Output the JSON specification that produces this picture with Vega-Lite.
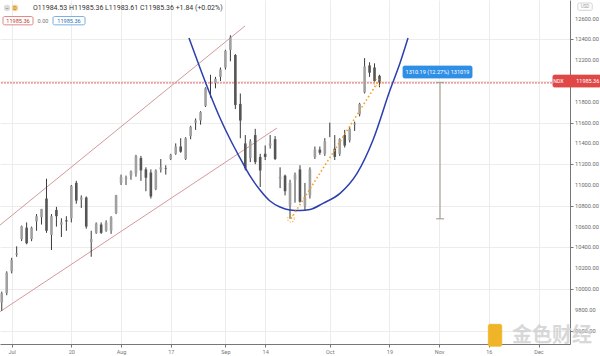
{
  "$schema": "https://vega.github.io/schema/vega-lite/v6.json",
  "width": 570,
  "height": 344,
  "autosize": {"type": "none"},
  "padding": {"left": 0, "top": 0, "right": 30, "bottom": 12},
  "background": "white",
  "config": {"view": {"stroke": null}, "font": "Roboto", "axis": {"labelOverlap": false, "labelBound": false, "labelFlush": false}},
  "datasets": {
    "ohlc": [
      {"t": -2, "d": "2020-06-29", "o": 9870, "h": 9975, "l": 9790, "c": 9960},
      {"t": -1, "d": "2020-06-30", "o": 9960, "h": 10170, "l": 9940, "c": 10157},
      {"t": 0, "d": "2020-07-01", "o": 10170, "h": 10300, "l": 10150, "c": 10279},
      {"t": 1, "d": "2020-07-02", "o": 10330, "h": 10410, "l": 10310, "c": 10342},
      {"t": 2, "d": "2020-07-06", "o": 10480, "h": 10610, "l": 10460, "c": 10604},
      {"t": 3, "d": "2020-07-07", "o": 10590, "h": 10640, "l": 10430, "c": 10440},
      {"t": 4, "d": "2020-07-08", "o": 10480, "h": 10600, "l": 10460, "c": 10590},
      {"t": 5, "d": "2020-07-09", "o": 10650, "h": 10720, "l": 10560, "c": 10700},
      {"t": 6, "d": "2020-07-10", "o": 10690, "h": 10770, "l": 10620, "c": 10770},
      {"t": 7, "d": "2020-07-13", "o": 10870, "h": 11060, "l": 10540, "c": 10560},
      {"t": 8, "d": "2020-07-14", "o": 10520, "h": 10720, "l": 10375, "c": 10700},
      {"t": 9, "d": "2020-07-15", "o": 10760, "h": 10790, "l": 10600, "c": 10700},
      {"t": 10, "d": "2020-07-16", "o": 10620, "h": 10680, "l": 10500, "c": 10640},
      {"t": 11, "d": "2020-07-17", "o": 10660, "h": 10700, "l": 10560, "c": 10650},
      {"t": 12, "d": "2020-07-20", "o": 10680, "h": 11000, "l": 10640, "c": 10990},
      {"t": 13, "d": "2020-07-21", "o": 11020, "h": 11040, "l": 10820, "c": 10850},
      {"t": 14, "d": "2020-07-22", "o": 10860, "h": 10900, "l": 10780, "c": 10880},
      {"t": 15, "d": "2020-07-23", "o": 10880, "h": 10890, "l": 10580, "c": 10600},
      {"t": 16, "d": "2020-07-24", "o": 10450, "h": 10560, "l": 10310, "c": 10480},
      {"t": 17, "d": "2020-07-27", "o": 10540, "h": 10640, "l": 10530, "c": 10630},
      {"t": 18, "d": "2020-07-28", "o": 10620, "h": 10640, "l": 10530, "c": 10540},
      {"t": 19, "d": "2020-07-29", "o": 10560, "h": 10660, "l": 10550, "c": 10640},
      {"t": 20, "d": "2020-07-30", "o": 10560, "h": 10700, "l": 10530, "c": 10690},
      {"t": 21, "d": "2020-07-31", "o": 10730, "h": 10905, "l": 10720, "c": 10900},
      {"t": 22, "d": "2020-08-03", "o": 11020, "h": 11100, "l": 11000, "c": 11080},
      {"t": 23, "d": "2020-08-04", "o": 11060, "h": 11090, "l": 11000, "c": 11070},
      {"t": 24, "d": "2020-08-05", "o": 11090, "h": 11140, "l": 11050, "c": 11130},
      {"t": 25, "d": "2020-08-06", "o": 11110, "h": 11290, "l": 11080, "c": 11280},
      {"t": 26, "d": "2020-08-07", "o": 11260, "h": 11280, "l": 11040, "c": 11140},
      {"t": 27, "d": "2020-08-10", "o": 11150, "h": 11170, "l": 10940, "c": 11070},
      {"t": 28, "d": "2020-08-11", "o": 11120, "h": 11150, "l": 10870, "c": 10890},
      {"t": 29, "d": "2020-08-12", "o": 10960, "h": 11150, "l": 10950, "c": 11140},
      {"t": 30, "d": "2020-08-13", "o": 11150, "h": 11250, "l": 11120, "c": 11170},
      {"t": 31, "d": "2020-08-14", "o": 11160, "h": 11190, "l": 11100, "c": 11155},
      {"t": 32, "d": "2020-08-17", "o": 11250, "h": 11300, "l": 11240, "c": 11290},
      {"t": 33, "d": "2020-08-18", "o": 11300, "h": 11400, "l": 11290, "c": 11370},
      {"t": 34, "d": "2020-08-19", "o": 11370, "h": 11450, "l": 11310, "c": 11320},
      {"t": 35, "d": "2020-08-20", "o": 11250, "h": 11460, "l": 11240, "c": 11450},
      {"t": 36, "d": "2020-08-21", "o": 11470, "h": 11570, "l": 11440, "c": 11560},
      {"t": 37, "d": "2020-08-24", "o": 11600, "h": 11640, "l": 11530, "c": 11620},
      {"t": 38, "d": "2020-08-25", "o": 11620, "h": 11710, "l": 11580, "c": 11700},
      {"t": 39, "d": "2020-08-26", "o": 11760, "h": 11940, "l": 11750, "c": 11930},
      {"t": 40, "d": "2020-08-27", "o": 11960, "h": 12060, "l": 11840, "c": 11960},
      {"t": 41, "d": "2020-08-28", "o": 11980, "h": 12040, "l": 11930, "c": 12020},
      {"t": 42, "d": "2020-08-31", "o": 12040, "h": 12130, "l": 12000, "c": 12110},
      {"t": 43, "d": "2020-09-01", "o": 12130, "h": 12300, "l": 12110, "c": 12290},
      {"t": 44, "d": "2020-09-02", "o": 12300, "h": 12440, "l": 12190, "c": 12420},
      {"t": 45, "d": "2020-09-03", "o": 12250, "h": 12260, "l": 11730, "c": 11770},
      {"t": 46, "d": "2020-09-04", "o": 11780, "h": 11880, "l": 11450, "c": 11620},
      {"t": 47, "d": "2020-09-08", "o": 11400, "h": 11480, "l": 11140, "c": 11160},
      {"t": 48, "d": "2020-09-09", "o": 11260, "h": 11440, "l": 11220, "c": 11420},
      {"t": 49, "d": "2020-09-10", "o": 11480, "h": 11540, "l": 11200, "c": 11220},
      {"t": 50, "d": "2020-09-11", "o": 11270, "h": 11300, "l": 10980, "c": 11140},
      {"t": 51, "d": "2020-09-14", "o": 11300, "h": 11380, "l": 11240, "c": 11270},
      {"t": 52, "d": "2020-09-15", "o": 11380, "h": 11480, "l": 11350, "c": 11400},
      {"t": 53, "d": "2020-09-16", "o": 11440, "h": 11470, "l": 11240, "c": 11250},
      {"t": 54, "d": "2020-09-17", "o": 11060, "h": 11170, "l": 10970, "c": 11080},
      {"t": 55, "d": "2020-09-18", "o": 11090, "h": 11100, "l": 10900, "c": 10940},
      {"t": 56, "d": "2020-09-21", "o": 10800, "h": 11050, "l": 10675.17, "c": 11020},
      {"t": 57, "d": "2020-09-22", "o": 11050, "h": 11120, "l": 10830, "c": 11100},
      {"t": 58, "d": "2020-09-23", "o": 11150, "h": 11190, "l": 10830, "c": 10840},
      {"t": 59, "d": "2020-09-24", "o": 10800, "h": 11020, "l": 10760, "c": 10880},
      {"t": 60, "d": "2020-09-25", "o": 10900, "h": 11170, "l": 10870, "c": 11150},
      {"t": 61, "d": "2020-09-28", "o": 11270, "h": 11370, "l": 11250, "c": 11340},
      {"t": 62, "d": "2020-09-29", "o": 11340, "h": 11370, "l": 11290, "c": 11310},
      {"t": 63, "d": "2020-09-30", "o": 11300, "h": 11450, "l": 11280, "c": 11420},
      {"t": 64, "d": "2020-10-01", "o": 11520, "h": 11600, "l": 11460, "c": 11520},
      {"t": 65, "d": "2020-10-02", "o": 11350, "h": 11480, "l": 11240, "c": 11270},
      {"t": 66, "d": "2020-10-05", "o": 11300, "h": 11450, "l": 11280, "c": 11440},
      {"t": 67, "d": "2020-10-06", "o": 11480, "h": 11530, "l": 11360, "c": 11380},
      {"t": 68, "d": "2020-10-07", "o": 11430, "h": 11560, "l": 11410, "c": 11540},
      {"t": 69, "d": "2020-10-08", "o": 11580, "h": 11610, "l": 11520, "c": 11590},
      {"t": 70, "d": "2020-10-09", "o": 11680, "h": 11790, "l": 11660, "c": 11780},
      {"t": 71, "d": "2020-10-12", "o": 11890, "h": 12220, "l": 11880, "c": 12140},
      {"t": 72, "d": "2020-10-13", "o": 12150, "h": 12180, "l": 12040, "c": 12080},
      {"t": 73, "d": "2020-10-14", "o": 12130, "h": 12170, "l": 11990, "c": 12000},
      {"t": 74, "d": "2020-10-15", "o": 12050, "h": 12060, "l": 11940, "c": 11985.36}
    ],
    "ticksY": [
      {"v": 9600}, {"v": 9800}, {"v": 10000}, {"v": 10200}, {"v": 10400}, {"v": 10600}, {"v": 10800}, {"v": 11000},
      {"v": 11200}, {"v": 11400}, {"v": 11600}, {"v": 11800}, {"v": 12000}, {"v": 12200}, {"v": 12400}, {"v": 12600}
    ],
    "channel": [
      {"id": "upper", "t": -2.35, "v": 10615},
      {"id": "upper", "t": 46.94, "v": 12529},
      {"id": "lower", "t": -2.35, "v": 9782},
      {"id": "lower", "t": 53.38, "v": 11548}
    ],
    "curve": [
      {"t": 35.67, "v": 12413}, {"t": 37.89, "v": 12125}, {"t": 39.9, "v": 11875},
      {"t": 41.91, "v": 11644}, {"t": 43.92, "v": 11442}, {"t": 45.93, "v": 11260},
      {"t": 47.95, "v": 11087}, {"t": 49.96, "v": 10952}, {"t": 51.97, "v": 10846},
      {"t": 53.98, "v": 10788}, {"t": 55.99, "v": 10760}, {"t": 58.0, "v": 10755},
      {"t": 60.02, "v": 10764}, {"t": 62.64, "v": 10824}, {"t": 66.06, "v": 10920},
      {"t": 69.48, "v": 11112}, {"t": 72.7, "v": 11433}, {"t": 76.12, "v": 11913},
      {"t": 78.13, "v": 12173}, {"t": 79.74, "v": 12413}
    ],
    "trend": [
      {"t": 56.2, "v": 10675.17},
      {"t": 73.6, "v": 11985.36}
    ],
    "measure": [
      {"t": 86.18, "v": 10675.17, "v2": 11985.36}
    ],
    "caps": [
      {"t": 85.4, "t2": 87.0, "v": 10675.17},
      {"t": 85.4, "t2": 87.0, "v": 11985.36}
    ],
    "boxes": [
      {"k": "measure", "t": 78.73, "t2": 92.62, "v": 12029, "v2": 12144, "fill": "#2f8fe6", "stroke": "#2f8fe6"},
      {"k": "ndx", "t": 108.9, "t2": 118.5, "v": 11942, "v2": 12057, "fill": "#e04848", "stroke": "#e04848"},
      {"k": "hdr1", "t": -1.75, "t2": 4.29, "v": 12540, "v2": 12620, "fill": "#ffffff", "stroke": "#d86a6a"},
      {"k": "hdr2", "t": 8.31, "t2": 14.75, "v": 12540, "v2": 12620, "fill": "#ffffff", "stroke": "#5b9bd5"},
      {"k": "usd", "t": 113.9, "t2": 116.8, "v": 12680, "v2": 12750, "fill": "#ffffff", "stroke": "#c8c8c8"},
      {"k": "logo", "t": 95.9, "t2": 98.6, "v": 9450, "v2": 9660, "fill": "#f0b429", "stroke": "#f0b429"}
    ],
    "badges": [
      {"t": -0.95, "v": 12702, "fill": "#dcdcdc"},
      {"t": 0.65, "v": 12702, "fill": "#f7cf86"}
    ],
    "labels": [
      {"t": 4.29, "v": 12702, "txt": "O11984.53  H11985.36  L11983.61  C11985.36  +1.84 (+0.02%)", "col": "#333333", "sz": 7, "al": "left"},
      {"t": 1.27, "v": 12580, "txt": "11985.36", "col": "#c0392b", "sz": 5.6, "al": "center"},
      {"t": 6.3, "v": 12580, "txt": "0.00", "col": "#777777", "sz": 5.6, "al": "center"},
      {"t": 11.53, "v": 12580, "txt": "11985.36", "col": "#2a6fb8", "sz": 5.6, "al": "center"},
      {"t": 85.67, "v": 12086, "txt": "1310.19 (12.27%) 131019", "col": "#ffffff", "sz": 5.6, "al": "center"},
      {"t": 110.0, "v": 11999, "txt": "NDX", "col": "#ffffff", "sz": 5.3, "al": "center"},
      {"t": 115.9, "v": 11999, "txt": "11985.36", "col": "#ffffff", "sz": 5.5, "al": "center"},
      {"t": 115.35, "v": 12715, "txt": "USD", "col": "#999999", "sz": 4.5, "al": "center"},
      {"t": 0.65, "v": 12702, "txt": "D", "col": "#b07020", "sz": 5, "al": "center"},
      {"t": -0.95, "v": 12702, "txt": "–", "col": "#555555", "sz": 5.5, "al": "center"}
    ],
    "logo": [
      {"t": 108.7, "v": 9545, "txt": "金色财经"}
    ]
  },
  "layer": [
    {
      "data": {"name": "ohlc"},
      "mark": {"type": "point", "opacity": 0},
      "encoding": {
        "x": {"field": "t", "type": "quantitative",
          "scale": {"domain": [-2.354, 112.33], "nice": false, "zero": false},
          "axis": {"values": [0, 12, 22, 32, 43, 51, 64, 76, 86, 96, 106], "title": null,
            "labelExpr": "datum.value == 0 ? 'Jul' : datum.value == 12 ? '20' : datum.value == 22 ? 'Aug' : datum.value == 32 ? '17' : datum.value == 43 ? 'Sep' : datum.value == 51 ? '14' : datum.value == 64 ? 'Oct' : datum.value == 76 ? '19' : datum.value == 86 ? 'Nov' : datum.value == 96 ? '16' : 'Dec'",
            "labelFontSize": 5.5, "labelColor": "#777777", "tickColor": "#777777", "tickSize": 3, "domainColor": "#777777",
            "gridColor": "#ececec", "labelPadding": 2, "grid": true, "labelOverlap": false, "labelBound": false}},
        "y": {"field": "c", "type": "quantitative",
          "scale": {"domain": [9471, 12779], "nice": false, "zero": false},
          "axis": {"orient": "right", "values": [9600, 9800, 10000, 10200, 10400, 10600, 10800, 11000, 11200, 11400, 11600, 11800, 12000, 12200, 12400, 12600],
            "labels": false, "title": null, "tickColor": "#777777", "tickSize": 3,
            "domainColor": "#777777", "gridColor": "#ececec", "grid": true}}
      }
    },
    {
      "data": {"name": "ticksY"},
      "mark": {"type": "text", "align": "left", "baseline": "middle", "fontSize": 5.7, "color": "#6a6a6a", "dx": 5},
      "encoding": {
        "x": {"datum": 112.33, "type": "quantitative"},
        "y": {"field": "v", "type": "quantitative"},
        "text": {"field": "v", "type": "quantitative", "format": ".2f"}
      }
    },
    {
      "data": {"name": "ohlc"},
      "mark": {"type": "rule", "color": "#e3a3a3", "strokeDash": [1.5, 1.5], "strokeWidth": 1},
      "encoding": {
        "y": {"datum": 11985.36, "type": "quantitative"}
      }
    },
    {
      "data": {"name": "channel"},
      "mark": {"type": "line", "color": "#d39a9a", "strokeWidth": 1},
      "encoding": {
        "x": {"field": "t", "type": "quantitative"},
        "y": {"field": "v", "type": "quantitative"},
        "detail": {"field": "id"}
      }
    },
    {
      "data": {"name": "ohlc"},
      "mark": {"type": "rule", "color": "#3a3a3a", "strokeWidth": 1},
      "encoding": {
        "x": {"field": "t", "type": "quantitative"},
        "y": {"field": "l", "type": "quantitative"},
        "y2": {"field": "h"}
      }
    },
    {
      "data": {"name": "ohlc"},
      "mark": {"type": "rule", "strokeWidth": 2.6},
      "encoding": {
        "x": {"field": "t", "type": "quantitative"},
        "y": {"field": "o", "type": "quantitative"},
        "y2": {"field": "c"},
        "color": {"condition": {"test": "datum.c >= datum.o", "value": "#a0a0a0"}, "value": "#555555"}
      }
    },
    {
      "data": {"name": "curve"},
      "mark": {"type": "line", "color": "#2b3fae", "strokeWidth": 1.5, "interpolate": "monotone"},
      "encoding": {
        "x": {"field": "t", "type": "quantitative"},
        "y": {"field": "v", "type": "quantitative"}
      }
    },
    {
      "data": {"name": "trend"},
      "mark": {"type": "line", "color": "#f0a020", "strokeWidth": 1.6, "strokeDash": [1.5, 2.5]},
      "encoding": {
        "x": {"field": "t", "type": "quantitative"},
        "y": {"field": "v", "type": "quantitative"}
      }
    },
    {
      "data": {"name": "trend"},
      "mark": {"type": "point", "filled": false, "color": "#f0a020", "size": 45, "strokeWidth": 1.2, "strokeDash": [1.2, 1.5]},
      "encoding": {
        "x": {"field": "t", "type": "quantitative"},
        "y": {"field": "v", "type": "quantitative"}
      }
    },
    {
      "data": {"name": "measure"},
      "mark": {"type": "rule", "color": "#a8a595", "strokeWidth": 1.2},
      "encoding": {
        "x": {"field": "t", "type": "quantitative"},
        "y": {"field": "v", "type": "quantitative"},
        "y2": {"field": "v2"}
      }
    },
    {
      "data": {"name": "caps"},
      "mark": {"type": "rule", "color": "#a8a595", "strokeWidth": 1.2},
      "encoding": {
        "x": {"field": "t", "type": "quantitative"},
        "x2": {"field": "t2"},
        "y": {"field": "v", "type": "quantitative"}
      }
    },
    {
      "data": {"name": "boxes"},
      "mark": {"type": "rect", "cornerRadius": 1.5, "strokeWidth": 0.8},
      "encoding": {
        "x": {"field": "t", "type": "quantitative"},
        "x2": {"field": "t2"},
        "y": {"field": "v", "type": "quantitative"},
        "y2": {"field": "v2"},
        "fill": {"field": "fill", "type": "nominal", "scale": null},
        "stroke": {"field": "stroke", "type": "nominal", "scale": null}
      }
    },
    {
      "data": {"name": "badges"},
      "mark": {"type": "point", "filled": true, "size": 40, "opacity": 1},
      "encoding": {
        "x": {"field": "t", "type": "quantitative"},
        "y": {"field": "v", "type": "quantitative"},
        "color": {"field": "fill", "type": "nominal", "scale": null}
      }
    },
    {
      "data": {"name": "labels"},
      "transform": [{"filter": "datum.al == 'left'"}],
      "mark": {"type": "text", "baseline": "middle", "align": "left"},
      "encoding": {
        "x": {"field": "t", "type": "quantitative"},
        "y": {"field": "v", "type": "quantitative"},
        "text": {"field": "txt"},
        "color": {"field": "col", "type": "nominal", "scale": null},
        "size": {"field": "sz", "type": "quantitative", "scale": null}
      }
    },
    {
      "data": {"name": "labels"},
      "transform": [{"filter": "datum.al == 'center'"}],
      "mark": {"type": "text", "baseline": "middle", "align": "center"},
      "encoding": {
        "x": {"field": "t", "type": "quantitative"},
        "y": {"field": "v", "type": "quantitative"},
        "text": {"field": "txt"},
        "color": {"field": "col", "type": "nominal", "scale": null},
        "size": {"field": "sz", "type": "quantitative", "scale": null}
      }
    },
    {
      "data": {"name": "logo"},
      "mark": {"type": "text", "fontSize": 20, "color": "#cfcfcf", "opacity": 0.8, "fontWeight": "bold", "font": "Noto Sans CJK SC", "baseline": "middle", "align": "center"},
      "encoding": {
        "x": {"field": "t", "type": "quantitative"},
        "y": {"field": "v", "type": "quantitative"},
        "text": {"field": "txt"}
      }
    }
  ]
}
